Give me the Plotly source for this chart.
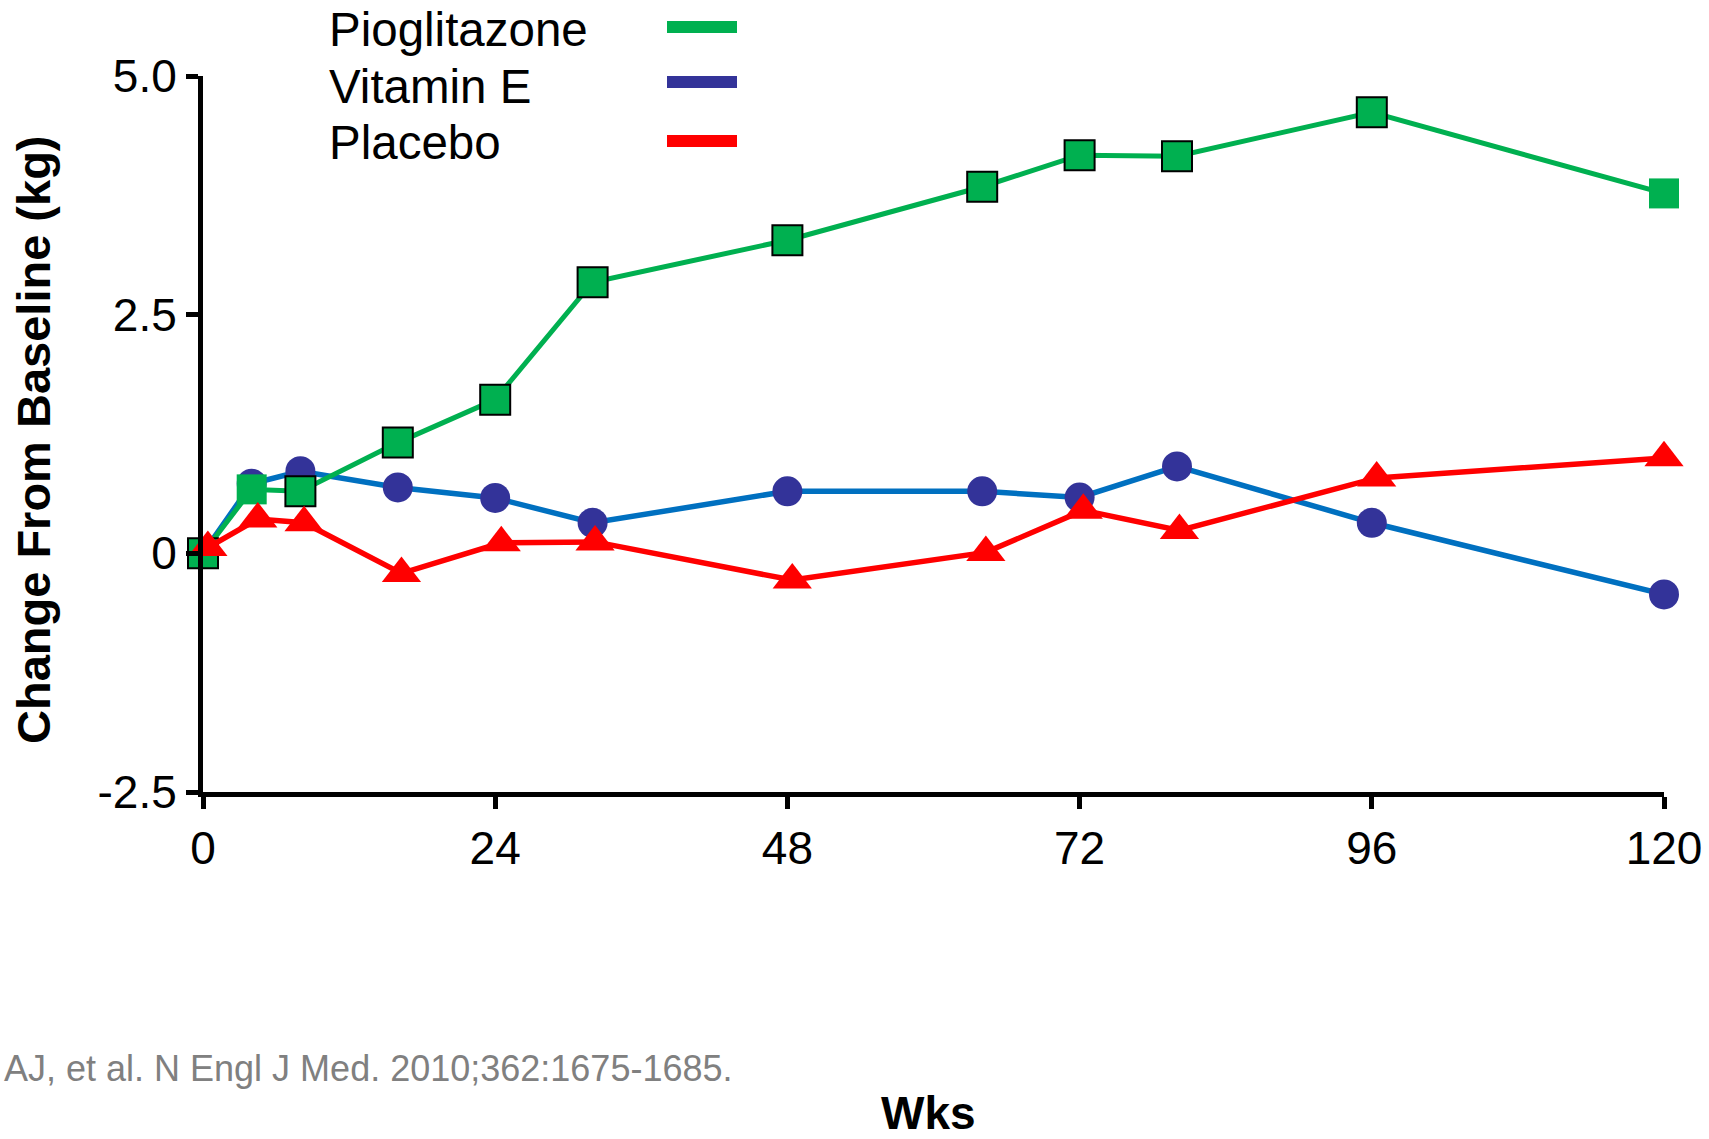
import plotly.graph_objects as go

# ---- data ----
weeks = [0, 4, 8, 16, 24, 32, 48, 64, 72, 80, 96, 120]
placebo_weeks = [0.4, 4.5, 8.3, 16.3, 24.5, 32.2, 48.4, 64.3, 72.3, 80.2, 96.4, 120]

pioglitazone = [0, 0.67, 0.65, 1.16, 1.61, 2.84, 3.28, 3.84, 4.17, 4.16, 4.62, 3.77]
vitamin_e = [0, 0.73, 0.86, 0.69, 0.58, 0.32, 0.65, 0.65, 0.585, 0.91, 0.32, -0.43]
placebo = [0.06, 0.36, 0.32, -0.21, 0.11, 0.12, -0.28, 0.01, 0.45, 0.24, 0.79, 1.0]

pio_outline = [2, 0, 2, 2, 2, 2, 2, 2, 2, 2, 2, 0]

x_ticks = [0, 24, 48, 72, 96, 120]
y_ticks = [-2.5, 0, 2.5, 5.0]
y_tick_labels = ["-2.5", "0", "2.5", "5.0"]

legend_names = ["Pioglitazone", "Vitamin E", "Placebo"]
legend_colors = ["#00B050", "#333399", "#FF0000"]

citation = "AJ, et al. N Engl J Med. 2010;362:1675-1685."

# ---- layout geometry ----
W, H = 1709, 1139
L, R, T, B = 203, 45, 76, 347
PW, PH = W - L - R, H - T - B


def px_x(px):
    return (px - L) / PW


def px_y(py):
    return (H - B - py) / PH


FONT = "Liberation Sans, Arial, sans-serif"

fig = go.Figure()

fig.add_trace(go.Scatter(
    x=weeks, y=vitamin_e, name="Vitamin E", mode="lines+markers",
    line=dict(color="#0070C0", width=5.5),
    marker=dict(symbol="circle", size=30, color="#333399", line=dict(width=0)),
    cliponaxis=False,
))
fig.add_trace(go.Scatter(
    x=weeks, y=pioglitazone, name="Pioglitazone", mode="lines+markers",
    line=dict(color="#00B050", width=5),
    marker=dict(symbol="square", size=30, color="#00B050",
                line=dict(width=pio_outline, color="black")),
    cliponaxis=False,
))
fig.add_trace(go.Scatter(
    x=placebo_weeks, y=placebo, name="Placebo", mode="lines+markers",
    line=dict(color="#FF0000", width=5.5),
    marker=dict(symbol="triangle-up", size=34, color="#FF0000", line=dict(width=0)),
    cliponaxis=False,
))

annotations = []
shapes = []

# custom legend: text left, line sample right
legend_text_y = [29, 86, 142]
legend_line_y = [27, 82, 141]
for name, color, ty, ly in zip(legend_names, legend_colors, legend_text_y, legend_line_y):
    annotations.append(dict(
        text=name, xref="paper", yref="paper", x=px_x(327), y=px_y(ty),
        xanchor="left", yanchor="middle", showarrow=False,
        font=dict(family=FONT, size=47.5, color="black"),
    ))
    shapes.append(dict(
        type="line", xref="paper", yref="paper",
        x0=px_x(667), x1=px_x(737), y0=px_y(ly), y1=px_y(ly),
        line=dict(color=color, width=12),
    ))

# axis titles
annotations.append(dict(
    text="<b>Change From Baseline (kg)</b>", xref="paper", yref="paper",
    x=px_x(33), y=px_y(440), xanchor="center", yanchor="middle",
    textangle=-90, showarrow=False,
    font=dict(family=FONT, size=47, color="black"),
))
annotations.append(dict(
    text="<b>Wks</b>", xref="paper", yref="paper",
    x=px_x(928), y=px_y(1113), xanchor="center", yanchor="middle",
    showarrow=False, font=dict(family=FONT, size=46, color="black"),
))
annotations.append(dict(
    text=citation, xref="paper", yref="paper",
    x=px_x(2), y=px_y(1068), xanchor="left", yanchor="middle",
    showarrow=False, font=dict(family=FONT, size=36, color="#808080"),
))

fig.update_layout(
    width=W, height=H,
    margin=dict(l=L, r=R, t=T, b=B, autoexpand=False),
    paper_bgcolor="white", plot_bgcolor="white",
    showlegend=False,
    font=dict(family=FONT, size=46, color="black"),
    annotations=annotations,
    shapes=shapes,
    xaxis=dict(
        range=[0, 120], tickvals=x_ticks, ticktext=[str(v) for v in x_ticks],
        showgrid=False, zeroline=False, showline=True, linecolor="black", linewidth=5,
        ticks="outside", ticklen=12, tickwidth=5, tickcolor="black",
        tickfont=dict(family=FONT, size=46, color="black"),
    ),
    yaxis=dict(
        range=[-2.5, 5.0], tickvals=y_ticks, ticktext=y_tick_labels,
        showgrid=False, zeroline=False, showline=True, linecolor="black", linewidth=5,
        ticks="outside", ticklen=12, tickwidth=5, tickcolor="black",
        tickfont=dict(family=FONT, size=46, color="black"),
    ),
)

fig.write_html("out.html")
